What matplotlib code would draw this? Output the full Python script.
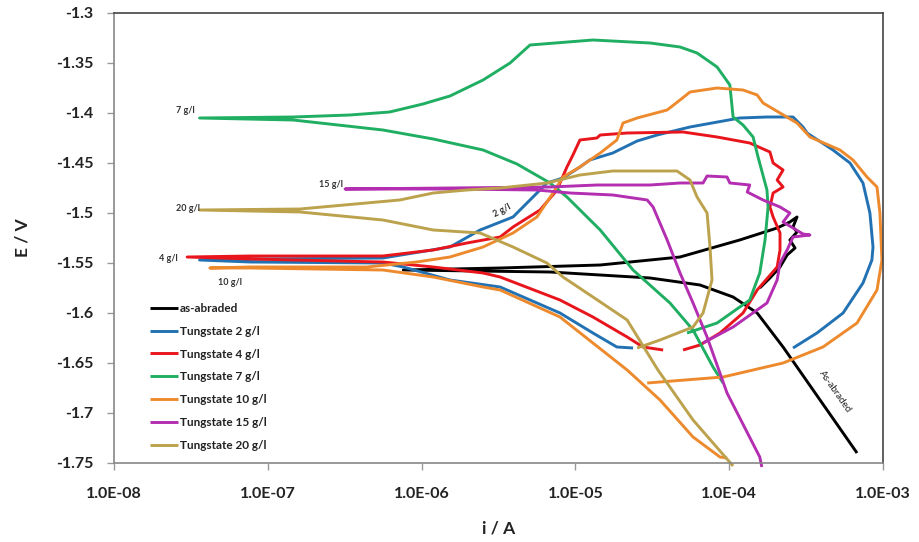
import numpy as np
import matplotlib
matplotlib.use("Agg")
import matplotlib.pyplot as plt

# ─── DATA ────────────────────────────────────────────────
# each curve: cathodic end -> corrosion point -> anodic end
black_i = [6.78e-4, 2.24e-4, 1.52e-4, 1.06e-4, 6.46e-5, 3.06e-5, 6.84e-6, 7.6e-7,
           3.24e-6, 1.45e-5, 4.79e-5, 1.17e-4, 2.05e-4, 2.48e-4, 2.76e-4, 2.60e-4,
           2.76e-4, 2.48e-4, 2.68e-4, 2.38e-4, 2.14e-4, 1.84e-4, 1.58e-4]
black_E = [-1.740, -1.634, -1.600, -1.584, -1.572, -1.565, -1.559, -1.557,
           -1.555, -1.552, -1.544, -1.527, -1.515, -1.509, -1.504, -1.514,
           -1.519, -1.527, -1.535, -1.542, -1.554, -1.565, -1.575]

blue_i = [2.37e-5, 1.86e-5, 1.30e-5, 7.94e-6, 3.24e-6, 1.53e-6, 7.6e-7, 5.6e-7, 7.7e-8, 3.6e-8,
          7.7e-8, 5.6e-7, 1.53e-6, 2.40e-6, 3.93e-6, 5.30e-6, 6.53e-6, 8.30e-6, 1.07e-5,
          1.24e-5, 1.75e-5, 2.52e-5, 3.40e-5, 5.56e-5, 1.17e-4, 1.76e-4, 2.60e-4, 3.02e-4,
          3.21e-4, 4.73e-4, 6.10e-4, 7.41e-4, 8.22e-4, 8.61e-4, 8.47e-4, 7.41e-4, 5.50e-4,
          3.72e-4, 2.60e-4]
blue_E = [-1.635, -1.634, -1.620, -1.600, -1.574, -1.567, -1.554, -1.550, -1.549, -1.547,
          -1.546, -1.545, -1.534, -1.517, -1.504, -1.484, -1.470, -1.465, -1.454,
          -1.447, -1.440, -1.428, -1.422, -1.414, -1.405, -1.404, -1.404, -1.414,
          -1.420, -1.437, -1.450, -1.470, -1.500, -1.534, -1.547, -1.570, -1.600,
          -1.620, -1.635]

red_i = [3.72e-5, 2.75e-5, 2.17e-5, 1.30e-5, 7.94e-6, 3.24e-6, 2.51e-6, 1.19e-6, 5.6e-7,
         7.7e-8, 2.99e-8, 7.7e-8, 5.6e-7, 1.19e-6, 1.97e-6, 3.24e-6, 3.93e-6, 5.89e-6,
         7.59e-6, 8.81e-6, 9.64e-6, 1.07e-5, 1.38e-5, 1.45e-5, 2.17e-5, 5.01e-5, 8.34e-5,
         1.36e-4, 1.84e-4, 1.93e-4, 2.24e-4, 2.05e-4, 2.24e-4, 1.93e-4, 1.84e-4, 1.93e-4,
         2.14e-4, 2.14e-4, 2.05e-4, 1.52e-4, 1.23e-4, 8.71e-5, 6.46e-5, 5.01e-5]
red_E = [-1.637, -1.634, -1.624, -1.604, -1.587, -1.564, -1.560, -1.554, -1.549,
         -1.546, -1.544, -1.543, -1.543, -1.537, -1.530, -1.524, -1.514, -1.497,
         -1.477, -1.454, -1.442, -1.427, -1.425, -1.422, -1.420, -1.419, -1.424,
         -1.430, -1.439, -1.450, -1.457, -1.467, -1.474, -1.480, -1.494, -1.504,
         -1.520, -1.537, -1.554, -1.577, -1.600, -1.620, -1.632, -1.637]

green_i = [9.12e-5, 7.85e-5, 5.82e-5, 4.12e-5, 2.37e-5, 1.45e-5, 8.81e-6, 6.84e-6, 4.17e-6,
           2.51e-6, 1.19e-6, 5.6e-7, 1.46e-7, 3.6e-8, 1.46e-7, 3.42e-7, 6.2e-7, 1.02e-6,
           1.53e-6, 2.51e-6, 3.76e-6, 5.07e-6, 1.30e-5, 3.06e-5, 4.79e-5, 6.18e-5, 8.34e-5,
           1.01e-4, 1.06e-4, 1.23e-4, 1.43e-4, 1.54e-4, 1.76e-4, 1.79e-4, 1.71e-4, 1.58e-4,
           1.36e-4, 8.34e-5, 5.32e-5]
green_E = [-1.670, -1.654, -1.617, -1.590, -1.557, -1.517, -1.484, -1.470, -1.451,
           -1.437, -1.426, -1.417, -1.407, -1.405, -1.404, -1.402, -1.399, -1.391,
           -1.383, -1.367, -1.350, -1.332, -1.327, -1.330, -1.334, -1.340, -1.354,
           -1.372, -1.404, -1.412, -1.424, -1.444, -1.477, -1.494, -1.527, -1.560,
           -1.587, -1.610, -1.620]

orange_i = [9.68e-5, 8.71e-5, 5.82e-5, 3.55e-5, 2.17e-5, 1.30e-5, 7.94e-6, 3.24e-6, 2.51e-6,
            1.19e-6, 5.6e-7, 7.7e-8, 4.2e-8, 7.7e-8, 4.4e-7, 9.3e-7, 1.53e-6, 2.51e-6,
            3.93e-6, 5.62e-6, 7.15e-6, 8.30e-6, 1.07e-5, 1.45e-5, 1.86e-5, 2.04e-5, 2.52e-5,
            3.95e-5, 4.79e-5, 5.56e-5, 8.34e-5, 1.23e-4, 1.52e-4, 1.66e-4, 2.14e-4, 2.76e-4,
            3.35e-4, 5.25e-4, 6.38e-4, 7.87e-4, 9.14e-4, 9.55e-4, 9.84e-4, 9.14e-4, 6.78e-4,
            4.07e-4, 2.24e-4, 9.12e-5, 2.93e-5]
orange_E = [-1.745, -1.744, -1.724, -1.687, -1.657, -1.630, -1.604, -1.577, -1.574,
            -1.564, -1.557, -1.555, -1.555, -1.554, -1.554, -1.549, -1.544, -1.534,
            -1.520, -1.504, -1.480, -1.464, -1.454, -1.440, -1.427, -1.410, -1.405,
            -1.397, -1.387, -1.379, -1.375, -1.377, -1.382, -1.390, -1.400, -1.410,
            -1.424, -1.437, -1.447, -1.464, -1.474, -1.500, -1.547, -1.577, -1.610,
            -1.634, -1.650, -1.664, -1.670]

magenta_i = [1.63e-4, 1.58e-4, 9.68e-5, 7.18e-5, 5.82e-5, 4.79e-5, 3.95e-5, 3.20e-5, 2.93e-5,
             1.75e-5, 9.23e-6, 5.62e-6, 1.53e-6, 3.18e-7, 1.53e-6, 6.84e-6, 1.38e-5,
             3.06e-5, 4.79e-5, 6.76e-5, 7.18e-5, 9.68e-5, 1.01e-4, 1.36e-4, 1.31e-4,
             1.66e-4, 2.14e-4, 2.48e-4, 2.24e-4, 3.02e-4, 3.35e-4, 2.60e-4, 2.38e-4,
             2.14e-4, 2.05e-4, 1.76e-4, 1.06e-4, 6.76e-5]
magenta_E = [-1.754, -1.744, -1.680, -1.624, -1.590, -1.560, -1.527, -1.494, -1.487,
             -1.482, -1.480, -1.477, -1.476, -1.476, -1.475, -1.474, -1.472,
             -1.472, -1.470, -1.470, -1.463, -1.464, -1.470, -1.472, -1.479,
             -1.487, -1.494, -1.500, -1.509, -1.521, -1.522, -1.524, -1.537,
             -1.550, -1.567, -1.590, -1.614, -1.630]

gold_i = [1.06e-4, 5.82e-5, 3.44e-5, 2.17e-5, 1.30e-5, 8.30e-6, 6.53e-6, 3.93e-6, 2.40e-6,
          1.19e-6, 5.6e-7, 1.62e-7, 3.6e-8, 1.62e-7, 7.2e-7, 1.19e-6, 1.97e-6, 3.24e-6,
          6.53e-6, 1.07e-5, 1.75e-5, 4.58e-5, 5.56e-5, 6.18e-5, 7.18e-5, 7.50e-5, 7.73e-5,
          6.76e-5, 5.82e-5, 3.55e-5, 2.52e-5]
gold_E = [-1.753, -1.707, -1.657, -1.607, -1.584, -1.564, -1.550, -1.534, -1.520,
          -1.517, -1.507, -1.499, -1.497, -1.496, -1.487, -1.480, -1.477, -1.475,
          -1.470, -1.462, -1.458, -1.458, -1.467, -1.484, -1.500, -1.534, -1.567,
          -1.600, -1.614, -1.627, -1.635]

labels = ["as-abraded", "Tungstate 2 g/l", "Tungstate 4 g/l", "Tungstate 7 g/l",
          "Tungstate 10 g/l", "Tungstate 15 g/l", "Tungstate 20 g/l"]
colors = ["#000000", "#2271b3", "#e8161c", "#1fae62", "#ee8a2e", "#b32eb0", "#bca24c"]
series = [(black_i, black_E), (blue_i, blue_E), (red_i, red_E), (green_i, green_E),
          (orange_i, orange_E), (magenta_i, magenta_E), (gold_i, gold_E)]

x_ticks = [1e-8, 1e-7, 1e-6, 1e-5, 1e-4, 1e-3]
x_ticklabels = ["1.0E-08", "1.0E-07", "1.0E-06", "1.0E-05", "1.0E-04", "1.0E-03"]
y_ticks = [-1.75, -1.7, -1.65, -1.6, -1.55, -1.5, -1.45, -1.4, -1.35, -1.3]
y_ticklabels = ["-1.75", "-1.7", "-1.65", "-1.6", "-1.55", "-1.5", "-1.45", "-1.4", "-1.35", "-1.3"]

# curve annotations: text, current, potential, alignment, rotation
notes = [("7 g/l", 3.37e-8, -1.398, "right", 0),
         ("15 g/l", 3.08e-7, -1.472, "right", 0),
         ("20 g/l", 3.6e-8, -1.496, "right", 0),
         ("4 g/l", 2.6e-8, -1.546, "right", 0),
         ("10 g/l", 5.7e-8, -1.570, "center", 0),
         ("2 g/l", 3.33e-6, -1.498, "center", 28)]

# ─── PLOT ─────────────────────────────────────────────────
plt.rcParams['font.family'] = ['Lato', 'DejaVu Sans']

fig = plt.figure(figsize=(9.2, 5.42), dpi=100)
ax = fig.add_axes([114 / 920, 1 - 463 / 542, (883 - 114) / 920, (463 - 13) / 542])

for (xi, ye), lab, col in zip(series, labels, colors):
    ax.plot(xi, ye, color=col, lw=2.1, label=lab, clip_on=False,
            solid_joinstyle="round", solid_capstyle="butt")

ax.set_xscale("log")
ax.set_xlim(1e-8, 1e-3)
ax.set_ylim(-1.75, -1.3)
ax.set_xticks(x_ticks)
ax.set_xticklabels(x_ticklabels)
ax.set_yticks(y_ticks)
ax.set_yticklabels(y_ticklabels)
ax.minorticks_off()
ax.tick_params(axis="both", direction="out", length=5, width=1, color="#999999",
               labelsize=11.5, labelcolor="#222222")
ax.tick_params(axis="y", pad=10)
ax.tick_params(axis="x", pad=12)
for lbl in ax.get_xticklabels() + ax.get_yticklabels():
    lbl.set_fontweight("bold")

for side in ["left", "bottom"]:
    ax.spines[side].set_color("#888888")
for side in ["top", "right"]:
    ax.spines[side].set_color("#444444")
for sp in ax.spines.values():
    sp.set_linewidth(1.2)

ax.set_xlabel("i / A", fontsize=12.5, fontweight="bold", color="#222222", labelpad=14)
ax.set_ylabel("E / V", fontsize=12.5, fontweight="bold", color="#222222", labelpad=18)

for txt, xi, ye, ha, rot in notes:
    ax.text(xi, ye, txt, fontsize=6.5, fontweight="bold", color="#333333",
            ha=ha, va="center", rotation=rot)
ax.text(4.9e-4, -1.679, "As-abraded", fontsize=7, color="#222222",
        ha="center", va="center", rotation=-55)

leg = ax.legend(loc="upper left", bbox_to_anchor=(150 / 920, 1 - 303 / 542),
                bbox_transform=fig.transFigure, frameon=False,
                prop={"size": 8.5, "weight": "bold"}, handlelength=2.4,
                handletextpad=0.1, labelspacing=1.0, borderpad=0, borderaxespad=0)
for t in leg.get_texts():
    t.set_color("#222222")

fig.savefig("out.png", dpi=100)
